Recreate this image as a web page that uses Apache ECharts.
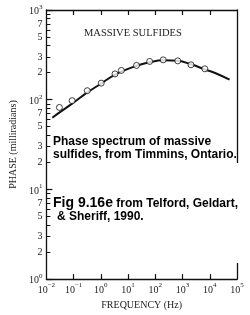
<!DOCTYPE html>
<html><head><meta charset="utf-8">
<script src="https://cdn.jsdelivr.net/npm/echarts@6/dist/echarts.min.js"></script>
<style>html,body{margin:0;padding:0;background:#fff}#c{width:250px;height:315px}</style>
</head><body><div id="c"></div>
<script>
// Fitted curve (frequency Hz, phase mrad)
const curveFreq  = [0.0165, 0.0297, 0.088, 0.31, 1, 3.23, 20.4, 60.5, 195, 686, 2040, 6580, 16500, 53300];
const curvePhase = [63, 71.7, 90.3, 119.7, 150.6, 189.6, 238.8, 261, 275, 271, 248, 218, 197, 167];
// Measured points
const pointFreq  = [0.030, 0.088, 0.318, 1.03, 3.31, 5.66, 20.4, 62, 195, 668, 2040, 6580];
const pointPhase = [82, 97.5, 126, 153, 194, 212, 241, 267, 278, 271, 245, 221];
// Tick labels
const xTickValues = [0.01, 0.1, 1, 10, 100, 1000, 10000, 100000];
const xTickExponents = ['\u22122', '\u22121', '0', '1', '2', '3', '4', '5'];
const yMajorValues = [1, 10, 100, 1000];
const yMajorExponents = ['0', '1', '2', '3'];
const yMinorTickValues = [2,3,4,5,6,7,8,9,20,30,40,50,60,70,80,90,200,300,400,500,600,700,800,900];
const yMinorLabelValues = [2,3,5,7,20,30,50,70,200,300,500,700];
const yMinorLabels = ['2','3','5','7','2','3','5','7','2','3','5','7'];
const titleText = 'MASSIVE SULFIDES';
const noteLines = ['Phase spectrum of massive', 'sulfides, from Timmins, Ontario.'];
const citeFig = 'Fig 9.16e';
const citeRest = ' from Telford, Geldart,';
const citeLine2 = '& Sheriff, 1990.';

function nearestIdx(vals, v) {
  let best = 0, bd = Infinity;
  vals.forEach((x, i) => { const d = Math.abs(Math.log10(x) - Math.log10(v)); if (d < bd) { bd = d; best = i; } });
  return best;
}
const serif = '"Liberation Serif", "DejaVu Serif", serif';
const sans = '"Liberation Sans", Arial, sans-serif';
const richPow = {
  b: { fontSize: 10, fontFamily: serif, color: '#222', verticalAlign: 'bottom', lineHeight: 13 },
  s: { fontSize: 7, fontFamily: serif, color: '#222', verticalAlign: 'top', lineHeight: 13 }
};
const axisLineStyle = { color: '#111', width: 1.3 };

const chart = echarts.init(document.getElementById('c'), null, { renderer: 'canvas' });
chart.setOption({
  animation: false,
  backgroundColor: '#fff',
  grid: { left: 44, right: 13, top: 10, bottom: 35 },
  xAxis: [
    {
      type: 'log', logBase: 10, min: 0.01, max: 100000, position: 'bottom',
      name: 'FREQUENCY (Hz)', nameLocation: 'middle', nameGap: 15,
      nameTextStyle: { fontFamily: serif, fontSize: 10, color: '#222' },
      axisLine: { show: true, lineStyle: axisLineStyle },
      axisTick: { show: true, inside: true, length: 5, lineStyle: { color: '#111', width: 1.2 }, customValues: xTickValues.slice(1, -1) },
      axisLabel: {
        show: true, margin: 3, customValues: xTickValues,
        formatter: v => '{b|10}{s|' + xTickExponents[nearestIdx(xTickValues, v)] + '}',
        rich: richPow
      },
      splitLine: { show: false }, minorTick: { show: false }
    },
    {
      type: 'log', logBase: 10, min: 0.01, max: 100000, position: 'top',
      axisLine: { show: true, lineStyle: axisLineStyle },
      axisTick: { show: true, inside: true, length: 5, lineStyle: { color: '#111', width: 1.2 }, customValues: xTickValues.slice(1, -1) },
      axisLabel: { show: false }, splitLine: { show: false }
    }
  ],
  yAxis: [
    {
      type: 'log', logBase: 10, min: 1, max: 1000, position: 'left',
      name: 'PHASE (milliradians)', nameLocation: 'middle', nameGap: 27, nameRotate: 90,
      nameTextStyle: { fontFamily: serif, fontSize: 10, color: '#222' },
      axisLine: { show: true, lineStyle: axisLineStyle },
      axisTick: { show: true, inside: true, length: 6, lineStyle: { color: '#111', width: 1.2 }, customValues: yMajorValues },
      axisLabel: {
        show: true, margin: 4, customValues: yMajorValues,
        formatter: v => '{b|10}{s|' + yMajorExponents[nearestIdx(yMajorValues, v)] + '}',
        rich: richPow
      },
      splitLine: { show: false }
    },
    {
      type: 'log', logBase: 10, min: 1, max: 1000, position: 'left',
      axisLine: { show: false },
      axisTick: { show: true, inside: true, length: 4, lineStyle: { color: '#111', width: 1 }, customValues: yMinorTickValues },
      axisLabel: {
        show: true, margin: 4, customValues: yMinorLabelValues,
        formatter: v => yMinorLabels[nearestIdx(yMinorLabelValues, v)],
        fontFamily: serif, fontSize: 10, color: '#222'
      },
      splitLine: { show: false }
    },
    {
      type: 'log', logBase: 10, min: 1, max: 1000, position: 'right',
      axisLine: { show: true, lineStyle: axisLineStyle },
      axisTick: { show: false }, axisLabel: { show: false }, splitLine: { show: false }
    }
  ],
  series: [
    {
      type: 'line', xAxisIndex: 0, yAxisIndex: 0, smooth: 0.4, showSymbol: false,
      lineStyle: { color: '#111', width: 2 },
      data: curveFreq.map((f, i) => [f, curvePhase[i]]), z: 3
    },
    {
      type: 'scatter', xAxisIndex: 0, yAxisIndex: 0, symbol: 'circle', symbolSize: 6,
      itemStyle: { color: '#fff', borderColor: '#111', borderWidth: 1 },
      data: pointFreq.map((f, i) => [f, pointPhase[i]]), z: 4
    }
  ],
  graphic: [
    { type: 'rect', z: 100, shape: { x: 233, y: 163, width: 8, height: 100 }, style: { fill: '#fff' } },
    { type: 'text', z: 101, style: { text: titleText, x: 84, y: 33, font: '10.5px ' + serif, fill: '#222', textVerticalAlign: 'middle' } },
    { type: 'text', z: 101, style: { text: noteLines[0], x: 53, y: 142, font: 'bold 12px ' + sans, fill: '#000', textVerticalAlign: 'middle' } },
    { type: 'text', z: 101, style: { text: noteLines[1], x: 53, y: 155, font: 'bold 12px ' + sans, fill: '#000', textVerticalAlign: 'middle' } },
    { type: 'text', z: 101, style: {
        text: '{f|' + citeFig + '}{r|' + citeRest + '}', x: 53, y: 203, textVerticalAlign: 'middle',
        rich: {
          f: { font: 'bold 14px ' + sans, fill: '#000', verticalAlign: 'bottom' },
          r: { font: 'bold 12px ' + sans, fill: '#000', verticalAlign: 'bottom' }
        }
    } },
    { type: 'text', z: 101, style: { text: citeLine2, x: 57, y: 217, font: 'bold 12px ' + sans, fill: '#000', textVerticalAlign: 'middle' } }
  ]
});
</script>
</body></html>
